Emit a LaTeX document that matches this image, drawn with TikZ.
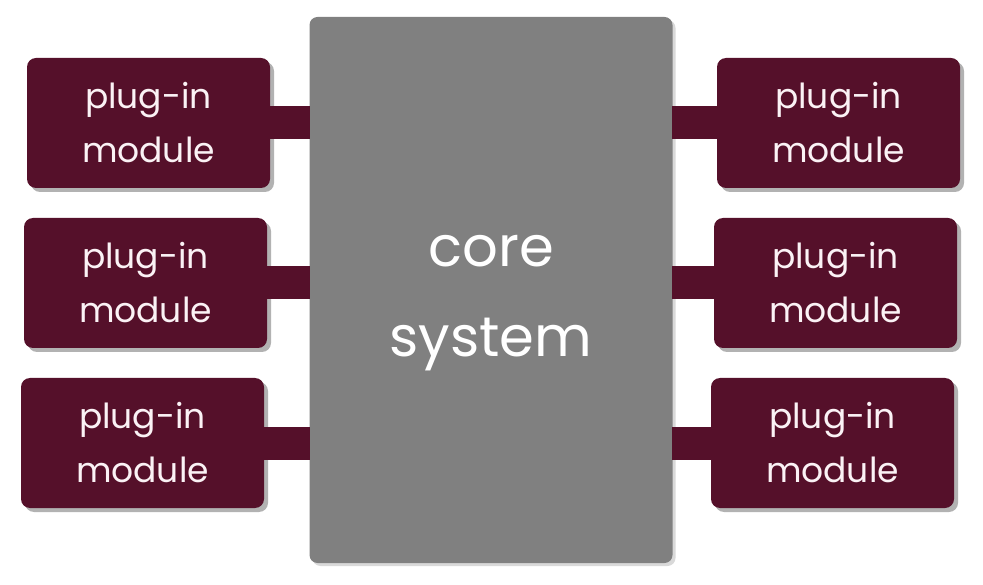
\documentclass[tikz,border=0pt]{standalone}
\usepackage{fontspec}
\setmainfont{Poppins}
\usepackage{xcolor}
\usetikzlibrary{positioning, shadows, calc}
\definecolor{plugred}{HTML}{55102A}
\definecolor{coregray}{HTML}{808080}
\definecolor{labelwhite}{HTML}{FBF2F5}

\begin{document}
\begin{tikzpicture}[x=1pt,y=-1pt,
                    module node/.style={rectangle,rounded corners=9pt,fill=plugred,minimum width=243pt,minimum height=130pt,
                      text=labelwhite,align=center,font=\fontsize{34.5}{54}\selectfont,
                      drop shadow={shadow xshift=4pt,shadow yshift=-4pt,opacity=0.3,fill=black}},
                    core node/.style={rectangle,rounded corners=8pt,fill=coregray,minimum width=363pt,minimum height=546pt,
                      drop shadow={shadow xshift=3pt,shadow yshift=-3pt,opacity=0.15,fill=black}},
                    core text/.style={text=white,align=center,font=\fontsize{56}{90}\selectfont},
                    plug link/.style={plugred,line width=33pt}]

  \useasboundingbox (0,0) rectangle (983,585);

  \node[core node] (core) at (491,290) {};
  \node[core text] (core label) at ($(core.center)+(0,13)$) {core\\system};

  % left side
  \node[module node] (l1) at (148.5,123) {plug-in\\module};
  \node[module node] (l2) at (145.5,283) {plug-in\\module};
  \node[module node] (l3) at (142.5,443) {plug-in\\module};

  % right side
  \node[module node] (r1) at (838.5,123) {plug-in\\module};
  \node[module node] (r2) at (835.5,283) {plug-in\\module};
  \node[module node] (r3) at (832.5,443) {plug-in\\module};

  \path[plug link]
    (l1.east) edge ($(l1.east -| core.west)+(1,0)$)
    (l2.east) edge ($(l2.east -| core.west)+(1,0)$)
    (l3.east) edge ($(l3.east -| core.west)+(1,0)$)
    (r1.west) edge ($(r1.west -| core.east)+(-1,0)$)
    (r2.west) edge ($(r2.west -| core.east)+(-1,0)$)
    (r3.west) edge ($(r3.west -| core.east)+(-1,0)$);

\end{tikzpicture}
\end{document}
